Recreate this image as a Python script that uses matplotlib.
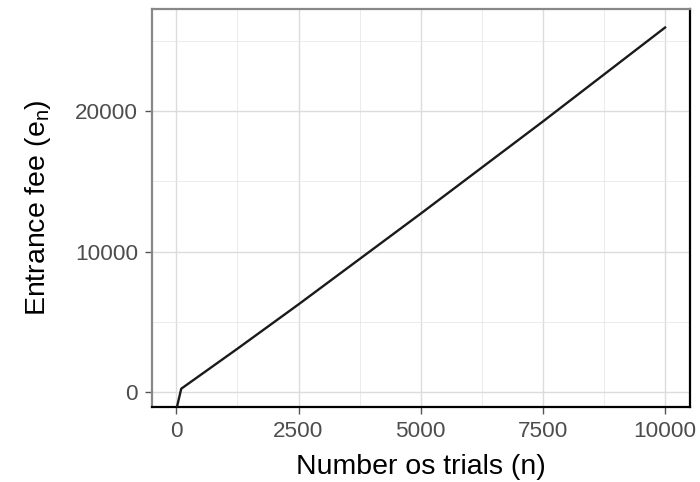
import numpy as np
import matplotlib
matplotlib.use("Agg")
import matplotlib.pyplot as plt
from matplotlib.ticker import MultipleLocator

# valores (n=0 cae por debajo del panel)
n_trials = [0, 100, 1250, 2500, 5000, 7500, 10000]
entrance_fee = [-np.inf, 255, 3100, 6250, 12700, 19250, 25930]

x_ticks = [0, 2500, 5000, 7500, 10000]
y_ticks = [0, 10000, 20000]

plt.rcParams['font.family'] = ['Liberation Sans', 'DejaVu Sans']

fig = plt.figure(figsize=(7, 4.82), dpi=100)
ax = fig.add_axes([0.217, 0.156, 0.768, 0.825])

# -inf se dibuja en el borde inferior, como en ggplot
y_lo, y_hi = -1030, 27235
fee_plot = [y_lo - 200 if np.isinf(v) else v for v in entrance_fee]
ax.plot(n_trials, fee_plot, color="#1a1a1a", lw=1.7, zorder=3)

ax.set_xlim(-500, 10500)
ax.set_ylim(y_lo, y_hi)
ax.set_xticks(x_ticks)
ax.set_yticks(y_ticks)
ax.xaxis.set_minor_locator(MultipleLocator(1250))
ax.yaxis.set_minor_locator(MultipleLocator(5000))

ax.grid(which="major", color="#dcdcdc", lw=1.0)
ax.grid(which="minor", color="#e8e8e8", lw=0.6)
ax.set_axisbelow(True)

ax.tick_params(which="major", length=5, width=1, color="#555555",
               labelsize=16.2, labelcolor="#4d4d4d", pad=5)
ax.tick_params(which="minor", length=0)

ax.spines["top"].set_color("#888888")
ax.spines["left"].set_color("#888888")
ax.spines["right"].set_color("black")
ax.spines["bottom"].set_color("black")
for s in ax.spines.values():
    s.set_linewidth(1.6)

ax.set_xlabel("Number os trials (n)", fontsize=20.5, labelpad=9)
ax.set_ylabel(r"Entrance fee ($\mathregular{e_n}$)", fontsize=20.5, labelpad=16)

fig.savefig("out.png", dpi=100)
